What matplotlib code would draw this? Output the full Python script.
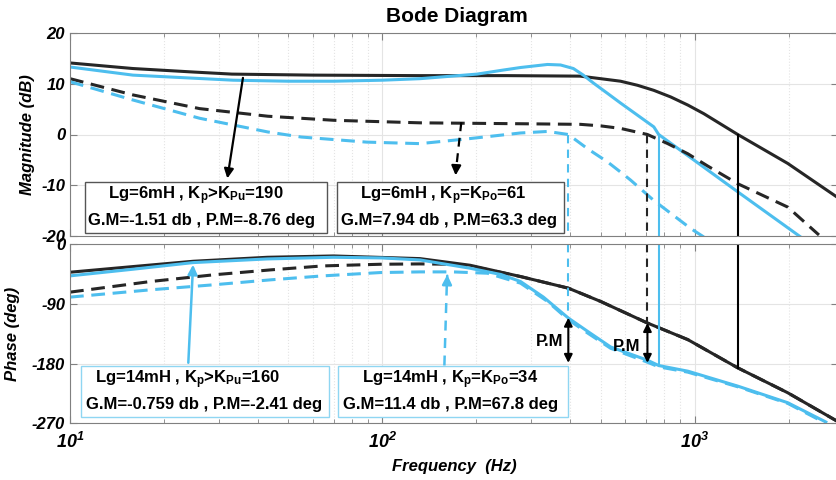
import numpy as np
import matplotlib.pyplot as plt
from matplotlib.patches import Rectangle

plt.rcParams['font.family'] = ['Liberation Sans', 'DejaVu Sans']
plt.rcParams['mathtext.fontset'] = 'custom'
plt.rcParams['mathtext.rm'] = 'Liberation Sans:bold'
plt.rcParams['mathtext.bf'] = 'Liberation Sans:bold:italic'
plt.rcParams['mathtext.default'] = 'rm'

BLUE = '#4DBEEE'
BLACK = '#262626'

# magnitude (dB)
f_mag_6u = [10, 15.9, 25, 33, 60, 132, 250, 430, 500, 579, 656, 740, 838, 951, 1070, 1374, 1986, 2851]
mag_6u = [14.1, 13.0, 12.3, 11.9, 11.7, 11.6, 11.6, 11.5, 11.0, 10.5, 9.7, 8.7, 7.4, 5.8, 4.1, 0.0, -5.7, -12.3]

f_mag_6o = [10, 15.9, 26, 43, 70, 132, 200, 300, 431, 500, 579, 706, 820, 951, 1100, 1374, 1986, 2500]
mag_6o = [11.0, 7.8, 5.1, 3.6, 2.8, 2.3, 2.2, 2.1, 2.0, 1.7, 1.2, 0.0, -1.8, -3.8, -6.2, -9.7, -14.3, -19.8]

f_mag_14u = [10, 15.9, 33.3, 50, 70, 100, 132, 201, 244, 277, 338, 372, 409, 440, 475, 526, 579, 740, 767, 1374, 2185]
mag_14u = [13.3, 11.7, 10.7, 10.5, 10.5, 10.7, 11.0, 11.9, 12.7, 13.2, 13.8, 13.7, 13.0, 11.7, 10.1, 8.1, 6.2, 1.5, 0.0, -11.3, -20.2]

f_mag_14o = [10, 15.9, 26, 43, 55, 89, 132, 191, 277, 338, 394, 454, 526, 579, 624, 740, 970, 1070]
mag_14o = [10.4, 6.8, 3.2, 0.5, -0.5, -1.5, -1.8, -0.8, 0.3, 0.6, 0.0, -2.8, -5.4, -7.4, -9.0, -13.0, -18.5, -20.2]

# phase (deg)
f_ph_6u = [10, 15.9, 24.8, 42.8, 69.8, 132, 191, 277, 394, 500, 706, 951, 1374, 1986, 2851]
ph_6u = [-42.5, -34, -26, -20, -18, -22, -32, -49, -66.5, -86.5, -119, -144, -186.5, -224, -266.5]

f_ph_6o = [10, 18.1, 28.7, 43.8, 64.5, 98.5, 132, 168, 191, 277, 394, 500, 706, 951, 1374, 1986, 2851]
ph_6o = [-72.5, -56.5, -46.5, -39, -33, -30.5, -30, -30.5, -33, -49, -66.5, -86.5, -119, -144, -186.5, -224, -266.5]

f_ph_14u = [10, 15.9, 24.8, 42.8, 69.8, 100, 132, 191, 240, 277, 328, 394, 454, 538, 706, 767, 951, 1374, 1986, 2630]
ph_14u = [-48, -38, -28, -22.5, -20, -21, -24, -36.5, -46, -56.5, -80, -111.5, -131.5, -155, -175, -183, -191.5, -214, -239, -268]

f_ph_14o = [10, 18.1, 28.7, 43.8, 64.5, 98.5, 132, 168, 217, 277, 338, 394, 454, 538, 706, 767, 951, 1374, 1986, 2630]
ph_14o = [-80, -69, -61.5, -54, -48, -43, -42, -42, -44, -59, -86.5, -114, -134, -157, -178, -185, -193, -215, -240, -270]

# crossover frequencies (Hz) and phase there
xo_freq = [394, 706, 767, 1374]
xo_phase = [-111, -119, -183, -186.5]
xo_color = [BLUE, BLACK, BLUE, 'black']
xo_dashed = [True, True, False, False]

box_lines = [
    ('Lg=6mH , K$_{p}$>K$_{Pu}$=190', 'G.M=-1.51 db , P.M=-8.76 deg'),
    ('Lg=6mH , K$_{p}$=K$_{Po}$=61', 'G.M=7.94 db , P.M=63.3 deg'),
    ('Lg=14mH , K$_{p}$>K$_{Pu}$=160', 'G.M=-0.759 db , P.M=-2.41 deg'),
    ('Lg=14mH , K$_{p}$=K$_{Po}$=34', 'G.M=11.4 db , P.M=67.8 deg'),
]

W, H = 836, 480
fig = plt.figure(figsize=(W / 100, H / 100), dpi=100)


def fx(px):
    return px / W


def fy(py):
    return 1 - py / H


ax1 = fig.add_axes([fx(70), fy(236), 1 - fx(70) + 0.002, (236 - 33) / H])
ax2 = fig.add_axes([fx(70), fy(423.3), 1 - fx(70) + 0.002, (423.3 - 244) / H])

for ax in (ax1, ax2):
    ax.set_xscale('log')
    ax.set_xlim(10, 2870)
    ax.grid(True, which='major', color='#e4e4e4', lw=0.8)
    ax.grid(True, which='minor', axis='x', color='#e4e4e4', lw=0.8, ls=':')
    ax.set_axisbelow(True)
    ax.tick_params(which='both', direction='in', top=True, right=True, colors='#808080',
                   labelcolor='black', labelsize=12)
    ax.tick_params(which='major', length=5)
    ax.tick_params(which='minor', length=3)
    for s in ax.spines.values():
        s.set_color('#808080')

lw = 2.2
ax1.plot(f_mag_6u, mag_6u, color=BLACK, lw=lw)
ax1.plot(f_mag_14u, mag_14u, color=BLUE, lw=lw)
ax1.plot(f_mag_6o, mag_6o, color=BLACK, lw=lw, dashes=(4.5, 2.5))
ax1.plot(f_mag_14o, mag_14o, color=BLUE, lw=lw, dashes=(4.5, 2.5))

ax2.plot(f_ph_6o, ph_6o, color=BLACK, lw=lw, dashes=(4.5, 2.5))
ax2.plot(f_ph_14o, ph_14o, color=BLUE, lw=lw, dashes=(4.5, 2.5))
ax2.plot(f_ph_6u, ph_6u, color=BLACK, lw=lw)
ax2.plot(f_ph_14u, ph_14u, color=BLUE, lw=lw)

for f, p, c, d in zip(xo_freq, xo_phase, xo_color, xo_dashed):
    ls = (0, (4, 3)) if d else '-'
    ax1.plot([f, f], [0, -20], color=c, lw=1.5, ls=ls)
    ax2.plot([f, f], [0, p], color=c, lw=1.5, ls=ls)

ax1.set_ylim(-20, 20)
ax1.set_yticks([-20, -10, 0, 10, 20])
ax1.set_yticklabels(['-20', '-10', '0', '10', '20'], fontweight='bold', fontstyle='italic')
ax1.tick_params(labelbottom=False)
ax1.set_ylabel('Magnitude (dB)', fontsize=12, fontweight='bold', fontstyle='italic')
ax1.yaxis.set_label_coords((35 - 70) / 766, 0.5)

ax2.set_ylim(-270, 0)
ax2.set_yticks([-270, -180, -90, 0])
ax2.set_yticklabels(['-270', '-180', '-90', '0'], fontweight='bold', fontstyle='italic')
ax2.set_xticks([10, 100, 1000])
ax2.set_xticklabels([r'$\mathbf{10^{1}}$', r'$\mathbf{10^{2}}$', r'$\mathbf{10^{3}}$'], fontsize=13)
ax2.tick_params(axis='x', pad=6)
ax2.set_ylabel('Phase (deg)', fontsize=12, fontweight='bold', fontstyle='italic')
ax2.yaxis.set_label_coords((20 - 70) / 766, 0.5)
ax2.set_xlabel('Frequency  (Hz)', fontsize=12, fontweight='bold', fontstyle='italic', labelpad=5)

fig.text(fx(457), fy(17), 'Bode Diagram', ha='center', va='center', fontsize=15, fontweight='bold')

# arrows pointing at the curves / boxes
ax1.annotate('', xy=(31.8, -9.2), xytext=(35.9, 11.7),
             arrowprops=dict(arrowstyle='-|>', color='black', lw=1.6, mutation_scale=14))
ax1.plot([179, 172.5], [2.4, -6.5], color='black', lw=1.6, ls=(0, (4, 3)))
ax1.annotate('', xy=(171.5, -8.6), xytext=(172.5, -6.0),
             arrowprops=dict(arrowstyle='-|>', color='black', lw=1.6, mutation_scale=14))
ax2.annotate('', xy=(24.8, -27), xytext=(23.9, -183),
             arrowprops=dict(arrowstyle='-|>', color=BLUE, lw=1.8, mutation_scale=14))
ax2.plot([158, 161], [-183, -55], color=BLUE, lw=1.8, ls=(0, (4, 3)))
ax2.annotate('', xy=(161.5, -42), xytext=(161.3, -52),
             arrowprops=dict(arrowstyle='-|>', color=BLUE, lw=1.8, mutation_scale=14))

# phase margin arrows
for f, p in [(394, -111), (706, -119)]:
    ax2.annotate('', xy=(f, p), xytext=(f, -179),
                 arrowprops=dict(arrowstyle='<|-|>', color='black', lw=1.5, mutation_scale=12,
                                 shrinkA=0, shrinkB=0))
ax2.text(380, -147, 'P.M', ha='right', va='center', fontsize=12, fontweight='bold')
ax2.text(671, -154, 'P.M', ha='right', va='center', fontsize=12, fontweight='bold')

# text boxes
boxes = [(85, 182, 327, 233, '#555555'), (337, 182, 564, 233, '#555555'),
         (81, 366, 329, 417, '#8fd6f2'), (338, 366, 568, 417, '#8fd6f2')]
text_x = [(108, 88), (360, 341), (95, 86), (362, 343)]
for (x0, y0, x1, y1, ec), (t1, t2), (tx1, tx2) in zip(boxes, box_lines, text_x):
    fig.patches.append(Rectangle((fx(x0), fy(y1)), fx(x1) - fx(x0), fy(y0) - fy(y1),
                                 transform=fig.transFigure, facecolor='white', edgecolor=ec,
                                 lw=1.0, zorder=5))
    fig.text(fx(tx1), fy(y0 + 14), t1, ha='left', va='center', fontsize=12,
             fontweight='bold', zorder=6)
    fig.text(fx(tx2), fy(y0 + 39), t2, ha='left', va='center', fontsize=12,
             fontweight='bold', zorder=6)

fig.savefig('out.png', dpi=100)
